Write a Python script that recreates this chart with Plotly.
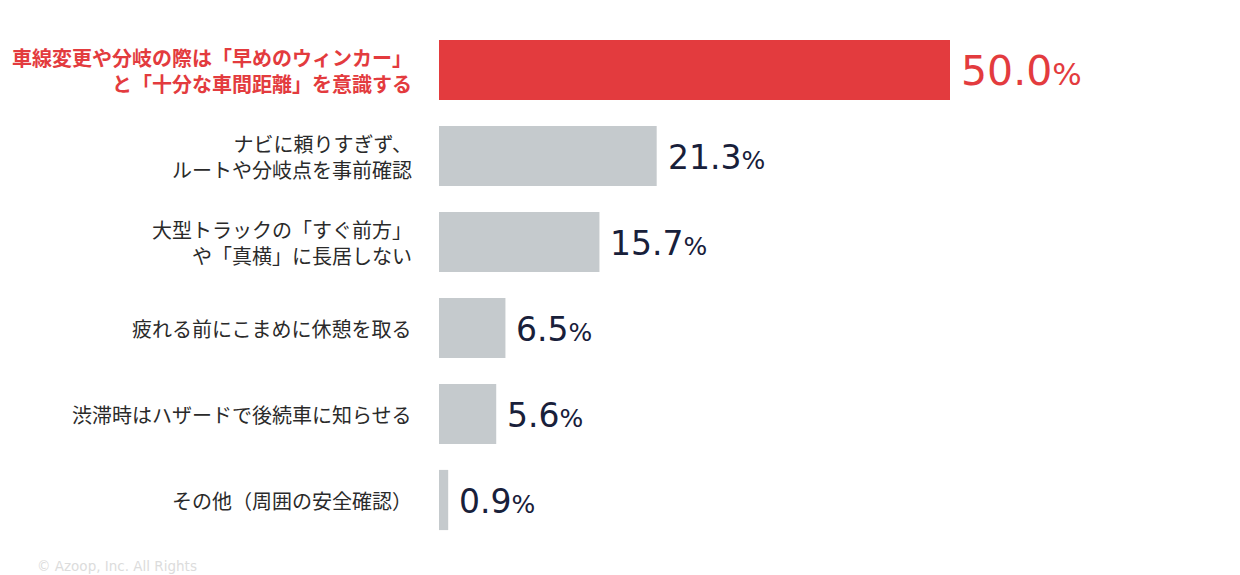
import plotly.graph_objects as go

# survey answers, top to bottom
labels = [
    "車線変更や分岐の際は「早めのウィンカー」<br>と「十分な車間距離」を意識する",
    "ナビに頼りすぎず、<br>ルートや分岐点を事前確認",
    "大型トラックの「すぐ前方」<br>や「真横」に長居しない",
    "疲れる前にこまめに休憩を取る",
    "渋滞時はハザードで後続車に知らせる",
    "その他（周囲の安全確認）",
]
values = [50.0, 21.3, 15.7, 6.5, 5.6, 0.9]

RED = "#E33B3E"
GREY = "#C5CACD"
NAVY = "#18203A"
TEXT = "#2A2A2A"

# page body has an 8px margin, so the figure is a bit smaller than the window
W, H = 1232, 567
L, T, R, B = 431, 19, 20, 32
plot_w = W - L - R
plot_h = H - T - B

keys = list(range(len(labels)))
colors = [RED if i == 0 else GREY for i in keys]

fig = go.Figure(go.Bar(
    x=values,
    y=keys,
    orientation="h",
    marker=dict(color=colors, line=dict(width=0)),
    width=0.7,
    hoverinfo="skip",
))

annos = []
for i, (lab, v) in enumerate(zip(labels, values)):
    top = i == 0
    # category label on the left
    annos.append(dict(
        x=0, y=i, xref="x", yref="y",
        xanchor="right", yanchor="middle", xshift=-25, align="right",
        text=("<b>%s</b>" % lab) if top else lab,
        showarrow=False,
        font=dict(family="Noto Sans CJK JP", size=20, color=RED if top else TEXT),
    ))
    # value label
    big = 41 if top else 33
    small = 31 if top else 25
    annos.append(dict(
        x=v, y=i, xref="x", yref="y",
        xanchor="left", yanchor="middle", xshift=9, yshift=-1,
        text="%.1f<span style='font-size:%dpx'>%%</span>" % (v, small),
        showarrow=False,
        font=dict(family="DejaVu Sans", size=big, color=RED if top else NAVY),
    ))

# footer
annos.append(dict(
    x=(27 - L) / plot_w, y=-23 / plot_h, xref="paper", yref="paper",
    xanchor="left", yanchor="middle",
    text="© Azoop, Inc. All Rights", showarrow=False,
    font=dict(family="DejaVu Sans", size=13.5, color="#DCDCDC"),
))

fig.update_layout(
    width=W, height=H,
    margin=dict(l=L, r=R, t=T, b=B),
    paper_bgcolor="white", plot_bgcolor="white",
    showlegend=False,
    xaxis=dict(range=[0, plot_w / 10.22], visible=False),
    yaxis=dict(range=[len(labels) - 0.5, -0.5], visible=False),
    annotations=annos,
)

fig.write_html("out.html")
